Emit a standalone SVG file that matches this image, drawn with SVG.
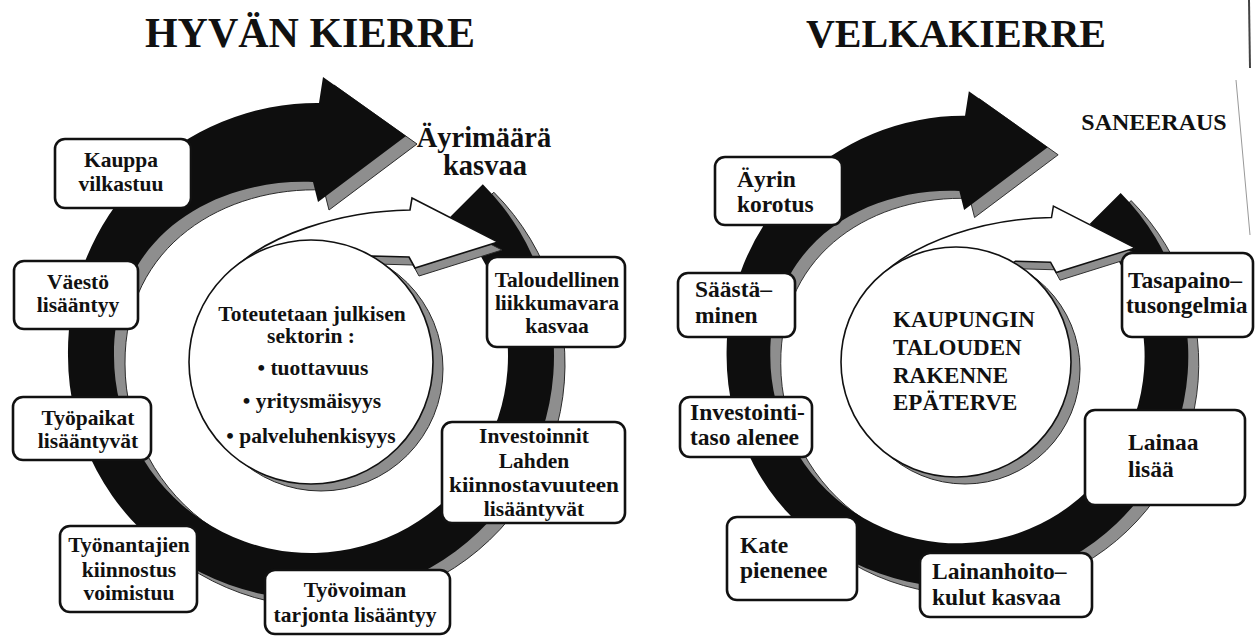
<svg xmlns="http://www.w3.org/2000/svg" xmlns:xlink="http://www.w3.org/1999/xlink" width="1255" height="637" viewBox="0 0 1255 637">
<style>
.band{fill:#0e0e0e}
.shade{fill:#8e8e8e;stroke:#2a2a2a;stroke-width:1}
.warrow{fill:#fff;stroke:#111;stroke-width:1.6;stroke-linejoin:miter}
.box{fill:#fff;stroke:#111;stroke-width:2.6}
.disc{fill:#fff;stroke:#111;stroke-width:1.6}
text{font-family:"Liberation Serif","Times New Roman",serif;font-weight:bold;fill:#111}
.l{font-size:21.5px;text-anchor:middle}
.r{font-size:23.5px}
.c{font-size:23px}
</style>
<defs>
<path id="bandShape" d="M 482.8,184.2 A 243 243 0 1 1 68,356 A 249 249 0 0 1 319,103 L 323,77 L 406,136 L 318,202 L 313,182 C 215,178 113,236 114,356 A 197 197 0 1 0 450.3,216.7 Z"/>
<path id="whiteArrowShape" d="M 229,273 C 266,235 340,211 410,210 L 412,198 L 498,242 L 415,268 L 409,257 L 372,256 L 330,285 Z"/>
<g id="cycle">
<use xlink:href="#bandShape" class="shade" transform="translate(11,8)"/>
<use xlink:href="#bandShape" class="band"/>
<use xlink:href="#whiteArrowShape" class="shade" transform="translate(4,8)"/>
<use xlink:href="#whiteArrowShape" class="warrow"/>
</g>
</defs>
<rect width="1255" height="637" fill="#fff"/>
<g id="connectors">
<use xlink:href="#cycle"/>
<use xlink:href="#cycle" transform="matrix(0.95,0,0,0.95,662,18)"/>
</g>
<g id="scan-edge">
<line x1="1249" y1="0" x2="1250" y2="68" stroke="#444" stroke-width="2"/>
<line x1="1236" y1="80" x2="1250" y2="235" stroke="#999" stroke-width="1"/>
</g>
<!-- Left diagram -->
<g id="title-left"><text x="310" y="47" font-size="42" text-anchor="middle">HYVÄN KIERRE</text></g>
<g id="label-ayrimaara"><text x="484" y="147" font-size="28.5" text-anchor="middle">Äyrimäärä</text><text x="485" y="175" font-size="28.5" text-anchor="middle">kasvaa</text></g>
<g id="hub-left">
<circle cx="321" cy="369" r="122" class="shade"/>
<circle cx="311" cy="362" r="122" class="disc"/>
<text class="l" x="312" y="321">Toteutetaan julkisen</text>
<text class="l" x="311" y="343">sektorin :</text>
<text class="l" x="313" y="375">• tuottavuus</text>
<text class="l" x="312" y="408">• yritysmäisyys</text>
<text class="l" x="311" y="443">• palveluhenkisyys</text>
</g>
<g id="n-kauppa"><rect class="box" x="55" y="139" width="136" height="69" rx="10"/><text class="l" x="121" y="167">Kauppa</text><text class="l" x="121" y="190.5">vilkastuu</text></g>
<g id="n-vaesto"><rect class="box" x="14" y="261" width="124" height="68" rx="10"/><text class="l" x="78" y="289">Väestö</text><text class="l" x="78" y="312">lisääntyy</text></g>
<g id="n-tyopaikat"><rect class="box" x="13" y="397" width="138" height="63" rx="10"/><text class="l" x="88" y="425">Työpaikat</text><text class="l" x="88" y="448">lisääntyvät</text></g>
<g id="n-tyonantajien"><rect class="box" x="60" y="526" width="137" height="86" rx="10"/><text class="l" x="129" y="552">Työnantajien</text><text class="l" x="129" y="577">kiinnostus</text><text class="l" x="129" y="600">voimistuu</text></g>
<g id="n-tyovoiman"><rect class="box" x="265" y="570" width="185" height="64" rx="10"/><text class="l" x="355" y="597">Työvoiman</text><text class="l" x="355" y="622">tarjonta lisääntyy</text></g>
<g id="n-investoinnit"><rect class="box" x="442" y="422" width="183" height="101" rx="10"/><text class="l" x="534" y="443">Investoinnit</text><text class="l" x="534" y="468">Lahden</text><text class="l" x="534" y="492" textLength="170" lengthAdjust="spacingAndGlyphs">kiinnostavuuteen</text><text class="l" x="534" y="516">lisääntyvät</text></g>
<g id="n-taloudellinen"><rect class="box" x="487" y="257" width="138" height="90" rx="10"/><text class="l" x="557" y="287">Taloudellinen</text><text class="l" x="557" y="310">liikkumavara</text><text class="l" x="557" y="333">kasvaa</text></g>
<!-- Right diagram -->
<g id="title-right"><text x="956" y="47" font-size="40" text-anchor="middle">VELKAKIERRE</text></g>
<g id="label-saneeraus"><text x="1154" y="130" font-size="24" text-anchor="middle">SANEERAUS</text></g>
<g id="hub-right">
<circle cx="965" cy="369" r="115" class="shade"/>
<circle cx="956" cy="362" r="115" class="disc"/>
<text class="c" x="893" y="327">KAUPUNGIN</text>
<text class="c" x="893" y="355">TALOUDEN</text>
<text class="c" x="893" y="383">RAKENNE</text>
<text class="c" x="893" y="410">EPÄTERVE</text>
</g>
<g id="n-ayrin"><rect class="box" x="715" y="157" width="127" height="68" rx="10"/><text class="r" x="737" y="187">Äyrin</text><text class="r" x="737" y="212">korotus</text></g>
<g id="n-saasta"><rect class="box" x="678" y="273" width="117" height="64" rx="10"/><text class="r" x="695" y="297">Säästä–</text><text class="r" x="695" y="323">minen</text></g>
<g id="n-investointi"><rect class="box" x="680" y="397" width="132" height="60" rx="10"/><text class="r" x="690" y="420">Investointi-</text><text class="r" x="690" y="445">taso alenee</text></g>
<g id="n-kate"><rect class="box" x="727" y="517" width="130" height="83" rx="10"/><text class="r" x="740" y="553">Kate</text><text class="r" x="740" y="578">pienenee</text></g>
<g id="n-lainanhoito"><rect class="box" x="920" y="553" width="172" height="64" rx="10"/><text class="r" x="932" y="579">Lainanhoito–</text><text class="r" x="932" y="605">kulut kasvaa</text></g>
<g id="n-lainaa"><rect class="box" x="1085" y="410" width="160" height="95" rx="10"/><text class="r" x="1128" y="450">Lainaa</text><text class="r" x="1128" y="477">lisää</text></g>
<g id="n-tasapaino"><rect class="box" x="1122" y="253" width="131" height="84" rx="10"/><text class="r" x="1128" y="288">Tasapaino–</text><text class="r" x="1126" y="313">tusongelmia</text></g>
</svg>
